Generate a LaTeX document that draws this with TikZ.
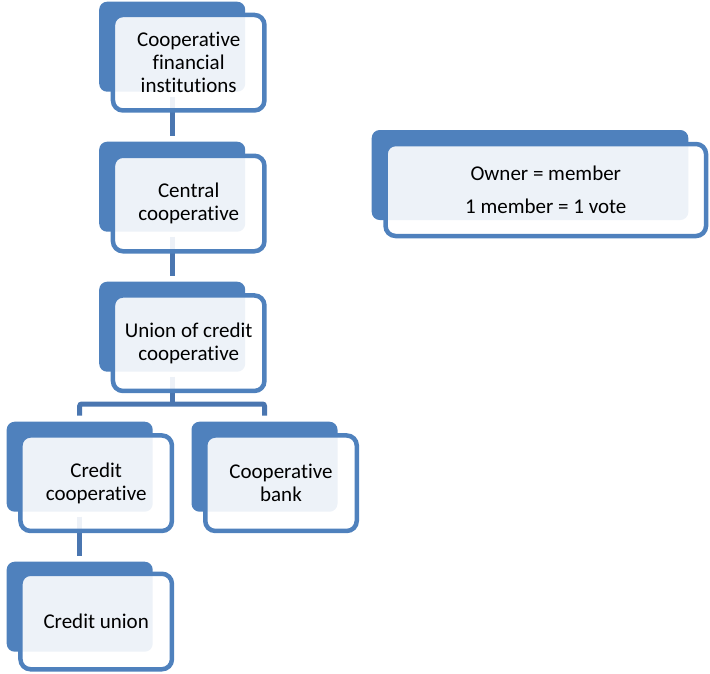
\documentclass[tikz,border=0pt]{standalone}
\usepackage{fontspec}
\setmainfont{Carlito}[RawFeature={-liga;-clig;-dlig;-calt}]
\definecolor{boxblue}{HTML}{4F81BD}
\definecolor{connblue}{HTML}{4A76B0}
\begin{document}
\begin{tikzpicture}[x=1pt,y=-1pt,
  backbox/.style={fill=boxblue, rounded corners=8pt, minimum width=146pt, minimum height=90pt, inner sep=0pt, outer sep=0pt},
  frontbox/.style={draw=boxblue, line width=4.5pt, fill=white, fill opacity=0.9, text opacity=1,
    rounded corners=10pt, minimum width=151.5pt, minimum height=95.5pt, inner sep=0pt, outer sep=0pt,
    align=center, font=\fontsize{21}{23}\selectfont},
  conn/.style={draw=connblue, line width=5pt}]
\useasboundingbox (0,0) rectangle (710,673);
% back boxes (named, used as connector anchors)
\node[backbox] (b1) at (172.2,46.7) {};
\node[backbox] (b2) at (172.2,186.7) {};
\node[backbox] (b3) at (172.2,326.7) {};
\node[backbox] (b4) at (79.7,466.7) {};
\node[backbox] (b5) at (264.5,466.7) {};
\node[backbox] (b6) at (79.7,606.7) {};
\node[backbox, minimum width=316.6pt] (bo) at (530,175) {};
% connectors
\coordinate (bar) at (0,404);
\draw[conn] ([yshift=-5pt]b1.south) -- ([yshift=6pt]b2.north);
\draw[conn] ([yshift=-5pt]b2.south) -- ([yshift=6pt]b3.north);
\draw[conn] ([yshift=-5pt]b3.south) -- (b3.south |- bar);
\draw[conn, rounded corners=2pt] ([yshift=6pt]b4.north) -- (b4.north |- bar) -- (b5.north |- bar) -- ([yshift=6pt]b5.north);
\draw[conn] ([yshift=-5pt]b4.south) -- ([yshift=6pt]b6.north);
% front boxes
\node[frontbox] (f1) at (188.7,62.7) {\raisebox{-1pt}{\parbox{140pt}{\centering Cooperative\\financial\\institutions}}};
\node[frontbox] (f2) at (188.7,203.5) {Central\\cooperative};
\node[frontbox] (f3) at (188.7,343.2) {Union of credit\\cooperative};
\node[frontbox] (f4) at (96.2,483.2) {Credit\\cooperative};
\node[frontbox] (f5) at (281,483.2) {Cooperative\\bank};
\node[frontbox] (f6) at (96.2,621.5) {Credit union};
\node[frontbox, minimum width=320.5pt, minimum height=92pt] (fo) at (545.8,190) {\raisebox{-1.5pt}{\parbox{300pt}{\centering Owner = member\\[10pt]1 member = 1 vote}}};
\end{tikzpicture}
\end{document}
